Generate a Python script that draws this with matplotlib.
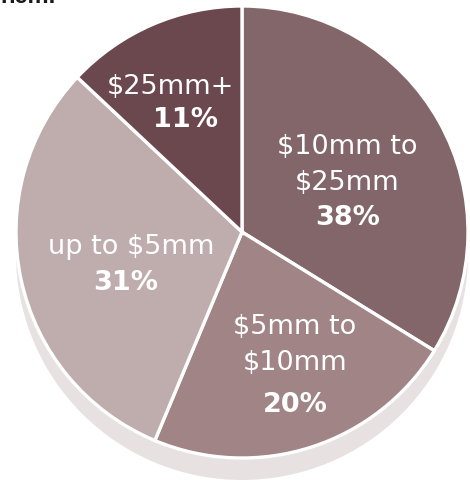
import matplotlib
matplotlib.use("Agg")
import matplotlib.pyplot as plt
from matplotlib.patches import Circle

categories = ["$10mm to\n$25mm", "$5mm to\n$10mm", "up to $5mm", "$25mm+"]
# slice sizes as drawn in the picture (labels below are the printed percentages)
slice_sizes = [33.8, 22.5, 30.7, 13.0]
pct_labels = ["38%", "20%", "31%", "11%"]
colors = ["#836669", "#a08486", "#bfadad", "#6b474e"]

W, H = 470, 481
fig = plt.figure(figsize=(W / 100, H / 100), dpi=100)
ax = fig.add_axes([0, 0, 1, 1])

cx, cy, r = 242, H - 233, 226

ax.pie(slice_sizes, colors=colors, startangle=90, counterclock=False,
       center=(cx, cy), radius=r, frame=True,
       wedgeprops=dict(edgecolor="white", linewidth=2.4, zorder=2))
# shadow / depth
ax.add_patch(Circle((cx, cy - 22), r, facecolor="#e7e2e1", edgecolor="none", zorder=0))
ax.set_xlim(0, W)
ax.set_ylim(0, H)
ax.set_aspect("equal")
ax.axis("off")

font = "DejaVu Sans"
cat_pos = [(347, 165), (295, 345), (131, 247), (170, 87)]
pct_pos = [(348, 218), (295, 405), (126, 283), (185, 120)]
for cat, pct, (x1, y1), (x2, y2) in zip(categories, pct_labels, cat_pos, pct_pos):
    ax.text(x1, H - y1, cat, color="white", fontsize=19.5, ha="center", va="center",
            family=font, linespacing=1.45, zorder=5)
    ax.text(x2, H - y2, pct, color="white", fontsize=19.5, fontweight="bold",
            ha="center", va="center", family=font, zorder=5)

# cropped title remnant at the top edge
fig.text(0.0, 1 - 3 / H, "hem.", fontsize=17, fontweight="bold", color="#1a1a1a",
         ha="left", va="baseline", family="Liberation Sans")

fig.savefig("out.png", dpi=100)
